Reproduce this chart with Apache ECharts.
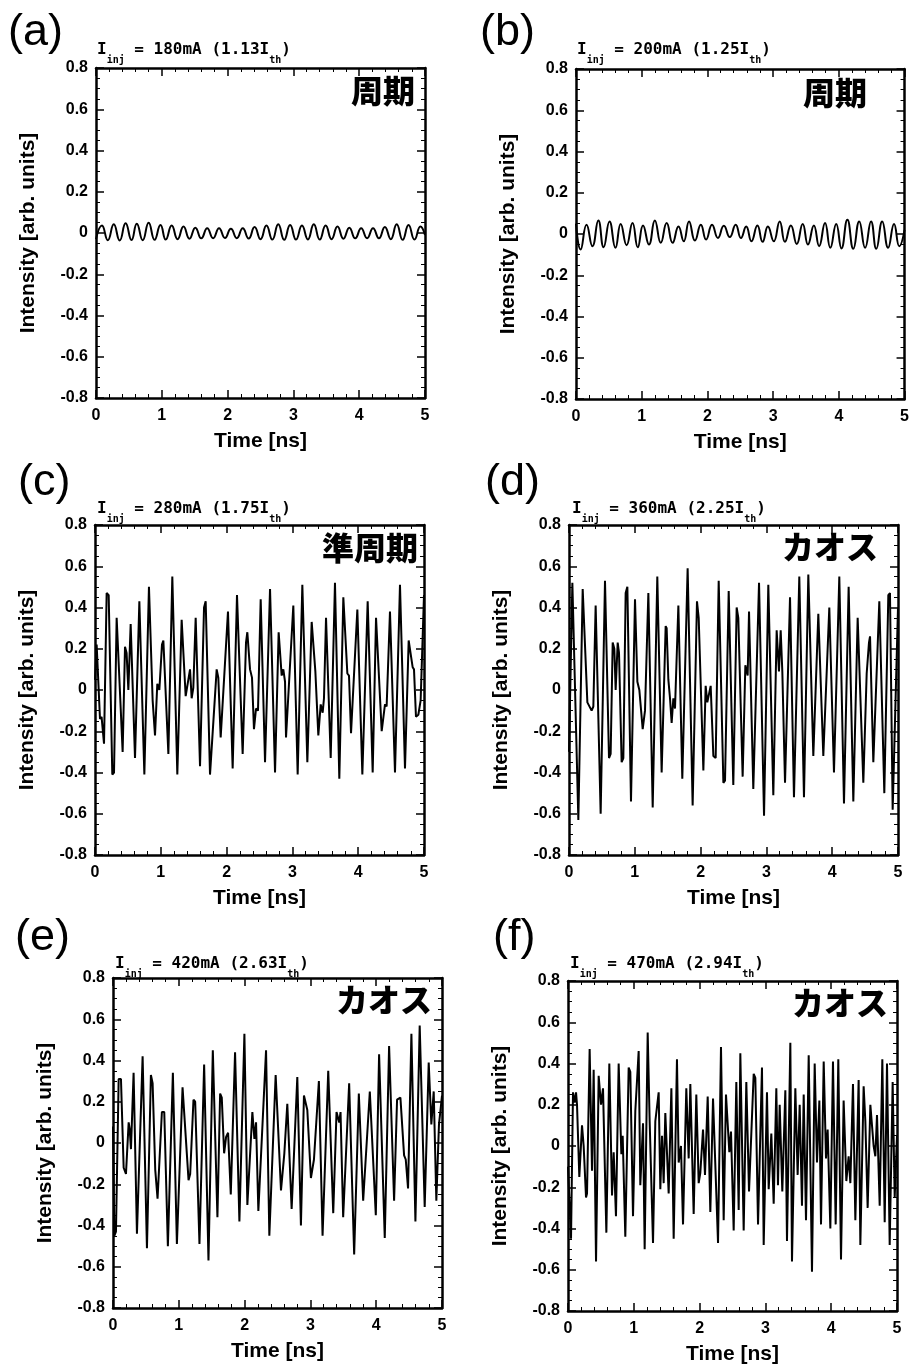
<!DOCTYPE html>
<html>
<head>
<meta charset="utf-8">
<script src="https://cdn.jsdelivr.net/npm/echarts@6/dist/echarts.min.js"></script>
<style>
html, body { margin: 0; padding: 0; background: #fff; }
#chart { width: 912px; height: 1369px; }
</style>
</head>
<body>
<div id="chart"></div>
<script>
// labels of the six panels
const tags = ['(a)', '(b)', '(c)', '(d)', '(e)', '(f)'];
const currents = ['180', '200', '280', '360', '420', '470'];
const ratios = ['1.13', '1.25', '1.75', '2.25', '2.63', '2.94'];
const states = ['周期', '周期', '準周期', 'カオス', 'カオス', 'カオス'];

// (a) 180mA : time [ns] / intensity
const tA = [0, 0.09, 0.18, 0.27, 0.36, 0.45, 0.54, 0.62, 0.71, 0.80,
  0.89, 0.98, 1.06, 1.15, 1.24, 1.33, 1.42, 1.51, 1.60, 1.69,
  1.78, 1.87, 1.96, 2.05, 2.14, 2.23, 2.32, 2.41, 2.50, 2.59,
  2.68, 2.77, 2.86, 2.95, 3.04, 3.13, 3.22, 3.31, 3.40, 3.49,
  3.58, 3.67, 3.76, 3.85, 3.94, 4.03, 4.12, 4.21, 4.30, 4.39,
  4.48, 4.57, 4.66, 4.75, 4.84, 4.93, 5.0];
const vA = [-0.03, 0.036, -0.035, 0.042, -0.036, 0.047, -0.034, 0.045, -0.035, 0.050,
  -0.033, 0.039, -0.032, 0.036, -0.030, 0.031, -0.028, 0.026, -0.026, 0.023,
  -0.025, 0.023, -0.024, 0.021, -0.025, 0.023, -0.027, 0.029, -0.030, 0.036,
  -0.032, 0.042, -0.033, 0.039, -0.032, 0.036, -0.031, 0.042, -0.032, 0.036,
  -0.030, 0.031, -0.028, 0.026, -0.026, 0.023, -0.025, 0.023, -0.026, 0.029,
  -0.030, 0.042, -0.033, 0.039, -0.032, 0.031, -0.01];

// (b) 200mA
const tB = [0, 0.07, 0.16, 0.25, 0.34, 0.42, 0.51, 0.60, 0.68, 0.77,
  0.86, 0.94, 1.02, 1.11, 1.20, 1.29, 1.38, 1.47, 1.56, 1.64,
  1.72, 1.81, 1.90, 1.98, 2.07, 2.16, 2.25, 2.34, 2.43, 2.51,
  2.59, 2.67, 2.76, 2.84, 2.92, 3.01, 3.10, 3.18, 3.27, 3.36,
  3.45, 3.53, 3.62, 3.70, 3.79, 3.87, 3.96, 4.04, 4.13, 4.22,
  4.31, 4.40, 4.49, 4.57, 4.66, 4.75, 4.84, 4.92, 5.0];
const vB = [0.05, -0.075, 0.045, -0.059, 0.066, -0.064, 0.061, -0.067, 0.049, -0.054,
  0.053, -0.064, 0.041, -0.051, 0.066, -0.043, 0.053, -0.043, 0.036, -0.035,
  0.061, -0.032, 0.045, -0.027, 0.045, -0.019, 0.040, -0.015, 0.045, -0.019,
  0.036, -0.035, 0.041, -0.038, 0.036, -0.035, 0.061, -0.038, 0.041, -0.048,
  0.049, -0.051, 0.041, -0.059, 0.053, -0.067, 0.049, -0.070, 0.069, -0.072,
  0.061, -0.067, 0.061, -0.072, 0.061, -0.067, 0.049, -0.059, 0.02];

// (c) 280mA
const tC = [0, 0.025, 0.076, 0.10, 0.137, 0.177, 0.208, 0.263, 0.289, 0.329,
  0.35, 0.42, 0.456, 0.48, 0.507, 0.542, 0.608, 0.674, 0.75, 0.82,
  0.876, 0.912, 0.947, 0.978, 1.018, 1.039, 1.115, 1.175, 1.251, 1.317,
  1.378, 1.444, 1.469, 1.494, 1.53, 1.596, 1.657, 1.682, 1.748, 1.849,
  1.874, 1.91, 2.021, 2.092, 2.158, 2.244, 2.295, 2.315, 2.356, 2.386,
  2.416, 2.447, 2.477, 2.518, 2.584, 2.66, 2.736, 2.791, 2.837, 2.862,
  2.888, 2.903, 3.014, 3.08, 3.151, 3.227, 3.293, 3.349, 3.394, 3.43,
  3.46, 3.48, 3.511, 3.582, 3.647, 3.713, 3.774, 3.835, 3.86, 3.891,
  3.987, 4.063, 4.144, 4.22, 4.271, 4.291, 4.357, 4.407, 4.432, 4.483,
  4.559, 4.635, 4.711, 4.767, 4.828, 4.848, 4.878, 4.914, 4.949, 5.0];
const vC = [0.05, 0.22, -0.14, -0.13, -0.26, 0.47, 0.46, -0.41, -0.40, 0.35,
  0.35, -0.30, 0.21, 0.18, 0.0, 0.32, -0.33, 0.43, -0.41, 0.50,
  -0.05, -0.22, 0.03, 0.0, 0.22, 0.24, -0.31, 0.55, -0.41, 0.34,
  -0.03, 0.10, -0.04, 0.01, 0.35, -0.37, 0.40, 0.43, -0.41, 0.10,
  0.06, -0.23, 0.38, -0.38, 0.46, -0.31, 0.23, 0.28, 0.10, 0.06,
  -0.19, -0.09, -0.10, 0.44, -0.35, 0.49, -0.40, 0.28, 0.07, 0.10,
  0.04, -0.23, 0.41, -0.41, 0.51, -0.35, 0.33, 0.09, -0.22, -0.07,
  -0.11, -0.04, 0.35, -0.33, 0.52, -0.43, 0.45, 0.08, 0.07, -0.21,
  0.39, -0.41, 0.43, -0.40, 0.35, 0.35, -0.20, -0.07, -0.08, 0.38,
  -0.40, 0.51, -0.38, 0.24, 0.11, 0.10, -0.13, -0.12, -0.05, 0.46];

// (d) 360mA
const tD = [0, 0.051, 0.076, 0.142, 0.208, 0.279, 0.309, 0.344, 0.37, 0.405,
  0.431, 0.481, 0.547, 0.608, 0.633, 0.664, 0.689, 0.709, 0.74, 0.76,
  0.80, 0.826, 0.861, 0.887, 0.942, 1.003, 1.039, 1.069, 1.12, 1.155,
  1.206, 1.272, 1.342, 1.408, 1.469, 1.484, 1.51, 1.535, 1.56, 1.586,
  1.611, 1.662, 1.722, 1.748, 1.803, 1.879, 1.945, 1.971, 2.042, 2.077,
  2.102, 2.153, 2.194, 2.229, 2.275, 2.346, 2.371, 2.427, 2.497, 2.548,
  2.573, 2.639, 2.68, 2.715, 2.736, 2.801, 2.888, 2.964, 3.029, 3.105,
  3.156, 3.191, 3.217, 3.242, 3.283, 3.359, 3.419, 3.5, 3.571, 3.637,
  3.713, 3.789, 3.865, 3.956, 4.027, 4.108, 4.179, 4.25, 4.321, 4.387,
  4.473, 4.524, 4.559, 4.575, 4.625, 4.716, 4.792, 4.853, 4.878, 4.919,
  5.0];
const vD = [-0.30, 0.52, 0.52, -0.63, 0.49, -0.06, -0.06, -0.10, -0.08, 0.41,
  0.41, -0.60, 0.53, -0.33, -0.31, 0.23, 0.20, 0.0, 0.23, 0.18,
  -0.35, -0.33, 0.47, 0.50, -0.54, 0.44, 0.04, 0.0, -0.19, -0.10,
  0.47, -0.57, 0.55, -0.40, 0.31, 0.30, 0.05, -0.04, -0.16, -0.04,
  -0.09, 0.41, -0.43, -0.43, 0.59, -0.56, 0.43, 0.35, -0.39, 0.02,
  -0.06, 0.02, -0.32, -0.33, 0.53, -0.45, -0.44, 0.48, -0.46, 0.40,
  0.35, -0.42, 0.12, 0.07, 0.38, -0.48, 0.52, -0.61, 0.51, -0.51,
  0.29, 0.09, 0.29, 0.09, -0.45, 0.45, -0.52, 0.55, -0.52, 0.56,
  -0.32, 0.37, -0.32, 0.40, -0.40, 0.55, -0.55, 0.50, -0.54, 0.35,
  -0.45, 0.08, 0.23, 0.26, -0.35, 0.43, -0.50, 0.46, 0.47, -0.58,
  0.40];

// (e) 420mA
const tE = [0, 0.02, 0.045, 0.086, 0.121, 0.162, 0.197, 0.238, 0.253, 0.273,
  0.313, 0.364, 0.45, 0.516, 0.576, 0.602, 0.642, 0.677, 0.743, 0.779,
  0.834, 0.91, 0.971, 1.057, 1.148, 1.173, 1.223, 1.249, 1.314, 1.385,
  1.451, 1.517, 1.587, 1.628, 1.653, 1.689, 1.719, 1.749, 1.79, 1.855,
  1.921, 1.997, 2.042, 2.118, 2.149, 2.174, 2.209, 2.326, 2.376, 2.472,
  2.553, 2.604, 2.649, 2.715, 2.801, 2.856, 2.902, 2.953, 3.008, 3.054,
  3.129, 3.185, 3.271, 3.347, 3.397, 3.438, 3.458, 3.498, 3.589, 3.665,
  3.736, 3.802, 3.903, 3.994, 4.044, 4.13, 4.196, 4.272, 4.317, 4.368,
  4.424, 4.449, 4.484, 4.535, 4.596, 4.661, 4.737, 4.798, 4.838, 4.874,
  4.914, 4.954, 5.0];
const vE = [0.08, -0.45, -0.43, 0.31, 0.31, -0.12, -0.15, 0.10, 0.07, -0.03,
  0.34, -0.44, 0.42, -0.51, 0.33, 0.29, -0.13, -0.27, 0.15, 0.15,
  -0.50, 0.34, -0.49, 0.27, -0.18, -0.15, 0.21, 0.20, -0.49, 0.38,
  -0.57, 0.45, -0.36, 0.24, 0.22, -0.05, 0.03, 0.05, -0.25, 0.44,
  -0.38, 0.53, -0.30, 0.15, 0.02, 0.10, -0.33, 0.45, -0.45, 0.33,
  -0.23, -0.05, 0.19, -0.32, 0.32, -0.40, 0.23, 0.16, -0.17, -0.08,
  0.30, -0.45, 0.35, -0.34, 0.15, 0.10, 0.15, -0.36, 0.29, -0.54,
  0.24, -0.28, 0.25, -0.35, 0.43, -0.46, 0.47, -0.28, 0.21, 0.22,
  -0.06, -0.08, -0.22, 0.53, -0.38, 0.57, -0.31, 0.39, 0.09, 0.25,
  -0.28, 0.09, 0.23];

// (f) 470mA
const tF = [0, 0.046, 0.076, 0.101, 0.122, 0.137, 0.172, 0.213, 0.238, 0.274,
  0.289, 0.329, 0.365, 0.39, 0.426, 0.466, 0.502, 0.532, 0.583, 0.628,
  0.669, 0.694, 0.729, 0.77, 0.811, 0.831, 0.871, 0.922, 0.947, 0.988,
  1.023, 1.074, 1.099, 1.14, 1.165, 1.211, 1.241, 1.292, 1.327, 1.378,
  1.403, 1.429, 1.454, 1.479, 1.53, 1.571, 1.606, 1.656, 1.682, 1.717,
  1.748, 1.798, 1.834, 1.859, 1.91, 1.95, 1.986, 2.011, 2.052, 2.082,
  2.123, 2.163, 2.204, 2.28, 2.325, 2.366, 2.401, 2.452, 2.477, 2.518,
  2.558, 2.594, 2.619, 2.67, 2.71, 2.751, 2.822, 2.847, 2.888, 2.948,
  2.974, 3.024, 3.05, 3.09, 3.126, 3.166, 3.191, 3.217, 3.257, 3.303,
  3.328, 3.379, 3.404, 3.455, 3.49, 3.521, 3.556, 3.582, 3.617, 3.658,
  3.708, 3.749, 3.784, 3.82, 3.845, 3.886, 3.921, 3.946, 3.987, 4.027,
  4.068, 4.108, 4.149, 4.189, 4.23, 4.265, 4.291, 4.331, 4.367, 4.417,
  4.443, 4.493, 4.519, 4.554, 4.595, 4.645, 4.671, 4.696, 4.737, 4.777,
  4.813, 4.848, 4.889, 4.934, 4.965, 5.0];
const vF = [-0.10, -0.45, 0.26, 0.21, 0.26, 0.20, -0.15, 0.10, 0.0, -0.25,
  -0.23, 0.47, -0.12, 0.37, -0.56, 0.34, 0.20, 0.28, -0.42, 0.40,
  -0.24, -0.03, -0.34, 0.40, -0.04, 0.05, -0.44, 0.38, 0.36, -0.34,
  0.17, 0.46, -0.19, 0.11, -0.50, 0.55, 0.12, -0.47, 0.12, 0.26,
  -0.21, 0.05, -0.18, 0.16, -0.23, 0.28, -0.45, 0.42, -0.08, 0.0,
  -0.38, 0.28, -0.06, 0.30, -0.33, 0.25, -0.18, -0.13, 0.08, -0.14,
  0.24, -0.32, 0.23, -0.47, 0.48, -0.36, 0.25, -0.03, 0.07, -0.41,
  0.31, -0.31, 0.45, -0.41, 0.31, -0.22, 0.35, 0.33, -0.38, 0.38,
  -0.48, 0.26, -0.21, 0.06, -0.28, 0.28, -0.19, 0.20, -0.22, 0.27,
  -0.46, 0.50, -0.56, 0.28, -0.14, 0.20, -0.29, 0.25, -0.36, 0.44,
  -0.61, 0.40, -0.08, 0.22, -0.38, 0.41, -0.06, 0.08, -0.40, 0.41,
  -0.38, 0.42, -0.55, 0.22, -0.17, -0.05, -0.18, 0.30, -0.36, 0.32,
  -0.48, 0.29, 0.12, -0.30, 0.20, 0.0, -0.05, 0.15, -0.29, 0.42,
  -0.37, 0.40, -0.48, 0.31, -0.25, 0.05];

const sans = "'Liberation Sans', Arial, Helvetica, sans-serif";
const mono = "'DejaVu Sans Mono', monospace";

// where each panel sits on the page
const panels = [
  { t: tA, v: vA, smooth: true,  grid: [96, 68],   tag: [8, 10],    head: [97, 42],   state: [497, 75] },
  { t: tB, v: vB, smooth: true,  grid: [576, 69],  tag: [480, 10],  head: [577, 42],  state: [45, 77] },
  { t: tC, v: vC, smooth: false, grid: [95, 525],  tag: [18, 460],  head: [97, 501],  state: [494, 532] },
  { t: tD, v: vD, smooth: false, grid: [569, 525], tag: [485, 460], head: [572, 501], state: [34, 531] },
  { t: tE, v: vE, smooth: false, grid: [113, 978], tag: [15, 915],  head: [115, 956], state: [480, 984] },
  { t: tF, v: vF, smooth: false, grid: [568, 981], tag: [493, 915], head: [570, 956], state: [24, 987] }
];

const grid = [], xAxis = [], yAxis = [], series = [], title = [];

panels.forEach((p, i) => {
  grid.push({ left: p.grid[0], top: p.grid[1], width: 329, height: 330 });

  const line = { onZero: false, lineStyle: { color: '#000', width: 2.5 } };
  const tick = { inside: true, length: 8, lineStyle: { color: '#000', width: 1.5 } };
  const xBase = {
    gridIndex: i, type: 'value', min: 0, max: 5, interval: 1,
    splitLine: { show: false }, axisLine: line, axisTick: tick,
    minorTick: { show: true, splitNumber: 5, length: 4, lineStyle: { color: '#000', width: 1 } }
  };
  const yBase = {
    gridIndex: i, type: 'value', min: -0.8, max: 0.8, interval: 0.2,
    splitLine: { show: false }, axisLine: line, axisTick: tick,
    minorTick: { show: true, splitNumber: 4, length: 4, lineStyle: { color: '#000', width: 1 } }
  };

  xAxis.push(Object.assign({}, xBase, {
    position: 'bottom',
    name: 'Time [ns]', nameLocation: 'middle', nameGap: 33,
    nameTextStyle: { color: '#000', fontFamily: sans, fontWeight: 'bold', fontSize: 21 },
    axisLabel: { color: '#000', fontFamily: sans, fontWeight: 'bold', fontSize: 16, margin: 10 }
  }));
  xAxis.push(Object.assign({}, xBase, { position: 'top', axisLabel: { show: false } }));

  yAxis.push(Object.assign({}, yBase, {
    position: 'left',
    name: 'Intensity [arb. units]', nameLocation: 'middle', nameGap: 57, nameRotate: 90,
    nameTextStyle: { color: '#000', fontFamily: sans, fontWeight: 'bold', fontSize: 21 },
    axisLabel: {
      color: '#000', fontFamily: sans, fontWeight: 'bold', fontSize: 16, margin: 8,
      formatter: v => String(Math.round(v * 10) / 10)
    }
  }));
  yAxis.push(Object.assign({}, yBase, { position: 'right', axisLabel: { show: false } }));

  series.push({
    type: 'line',
    xAxisIndex: 2 * i,
    yAxisIndex: 2 * i,
    data: p.t.map((t, k) => [t, p.v[k]]),
    showSymbol: false,
    smooth: p.smooth ? 0.5 : false,
    lineStyle: { color: '#000', width: 2 },
    silent: true
  });

  // (a) ... (f)
  title.push({
    text: tags[i], left: p.tag[0], top: p.tag[1], padding: 0,
    textStyle: { color: '#000', fontFamily: sans, fontWeight: 'normal', fontSize: 45 }
  });
  // I_inj = ... (..I_th)
  title.push({
    text: '{m|I}{s|inj}{m| = ' + currents[i] + 'mA (' + ratios[i] + 'I}{s|th}{m|)}',
    left: p.head[0], top: p.head[1], padding: 0,
    textStyle: {
      rich: {
        m: { fontFamily: mono, fontWeight: 'bold', fontSize: 16, lineHeight: 18, verticalAlign: 'top', color: '#000' },
        s: { fontFamily: mono, fontSize: 10, lineHeight: 10, padding: [13, 0, 0, 0], verticalAlign: 'top', color: '#000' }
      }
    }
  });
  // 周期 / 準周期 / カオス
  title.push({
    text: states[i], right: p.state[0], top: p.state[1], padding: 0,
    textStyle: { color: '#000', fontFamily: "'Noto Sans CJK JP', sans-serif", fontWeight: 900, fontSize: 32 }
  });
});

const chart = echarts.init(document.getElementById('chart'));
chart.setOption({
  animation: false,
  backgroundColor: '#fff',
  title: title,
  grid: grid,
  xAxis: xAxis,
  yAxis: yAxis,
  series: series
});
</script>
</body>
</html>
